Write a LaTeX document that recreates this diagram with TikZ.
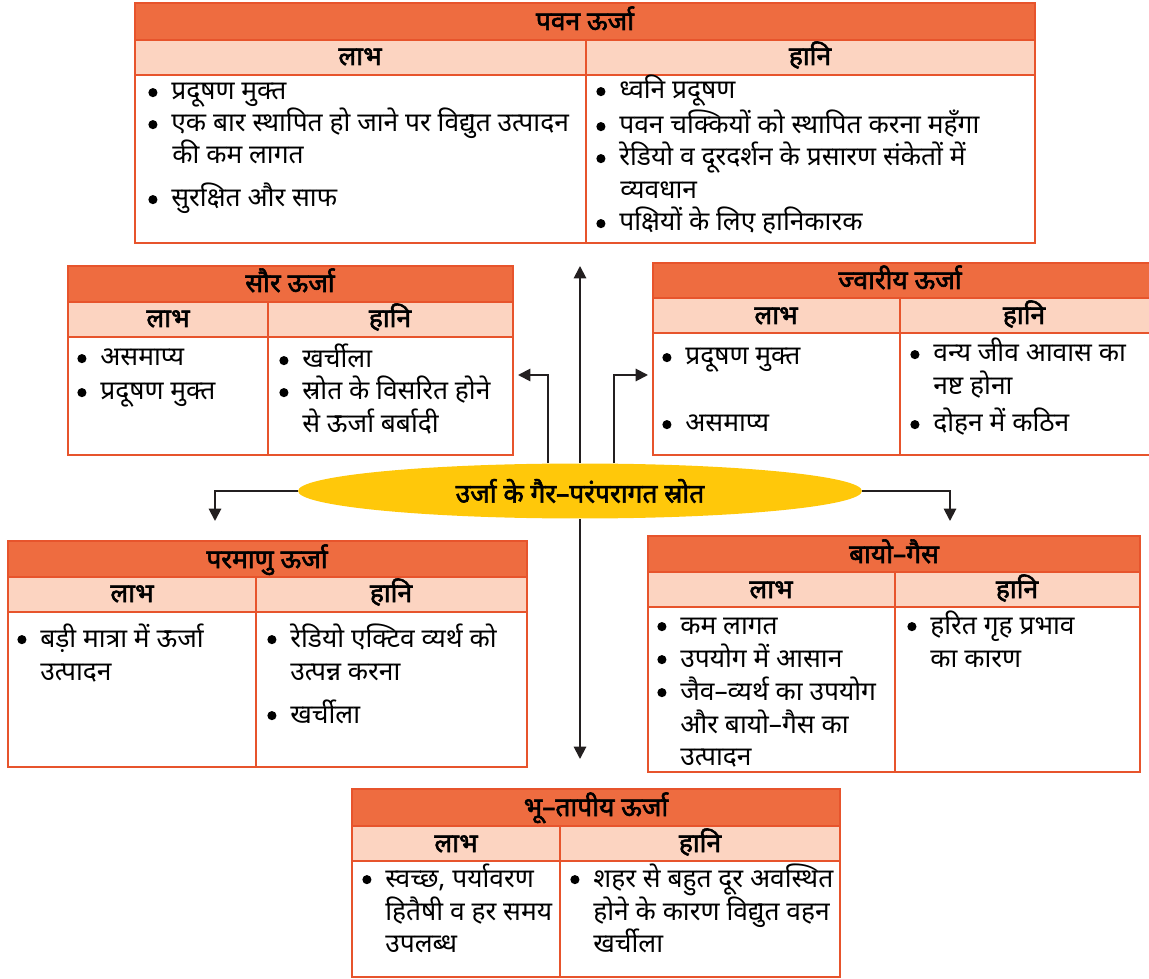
\documentclass[tikz,border=0pt]{standalone}
\usepackage{fontspec}
\setmainfont{Noto Sans}[Script=Devanagari, BoldFont=Noto Sans, BoldFeatures={FakeBold=2.2}]
\usepackage{xcolor}
\usepackage{tikz}
\usetikzlibrary{arrows.meta, shapes.geometric}

\definecolor{titleorange}{RGB}{238,108,64}
\definecolor{headpeach}{RGB}{252,212,193}
\definecolor{frameorange}{RGB}{231,84,44}
\definecolor{ovalyellow}{RGB}{255,200,10}
\definecolor{arrowdark}{RGB}{35,31,32}
\newcommand{\bul}{\makebox[4.6mm][l]{\raisebox{1.6pt}{\tikz\fill (0,0) circle (2.6pt);}}}

\begin{document}
\begin{tikzpicture}[x=0.02cm, y=-0.02cm,
  titlecell/.style={fill=titleorange, draw=frameorange, line width=1.4pt},
  headcell/.style={fill=headpeach, draw=frameorange, line width=1.4pt},
  frame/.style={draw=frameorange, line width=1.4pt},
  titletext/.style={anchor=base, inner sep=0pt, font=\bfseries\fontsize{15}{17}\selectfont},
  headtext/.style={anchor=base, inner sep=0pt, font=\bfseries\fontsize{15}{17}\selectfont},
  item/.style={anchor=base west, inner sep=0pt, font=\fontsize{15}{17}\selectfont},
  srcnode/.style={ellipse, fill=ovalyellow, minimum width=11.28cm, minimum height=1.1cm, inner sep=0pt, font=\bfseries\fontsize{15}{17}\selectfont},
  conn/.style={draw=arrowdark, line width=1.1pt, -{Triangle[length=7pt, width=7pt]}}]

\useasboundingbox (0,0) rectangle (1149,979);

% pavan
\filldraw[titlecell] (135,3) rectangle (1035,40);
\filldraw[headcell] (135,40) rectangle (1035,75);
\draw[frame] (135,75) rectangle (1035,243);
\draw[frame] (586,40) -- (586,243);
\node[titletext] (windT) at (585,30) {पवन ऊर्जा};
\node[headtext] (windP) at (360,65) {लाभ};
\node[headtext] (windN) at (810,65) {हानि};
\node[item] (windP1) at (148,100) {\bul प्रदूषण मुक्त};
\node[item] (windP2) at (148,132) {\bul एक बार स्थापित हो जाने पर विद्युत उत्पादन};
\node[item] (windP2b) at (172,164) {की कम लागत};
\node[item] (windP3) at (148,207) {\bul सुरक्षित और साफ};
\node[item] (windN1) at (596,99) {\bul ध्वनि प्रदूषण};
\node[item] (windN2) at (596,134) {\bul पवन चक्कियों को स्थापित करना महँगा};
\node[item] (windN3) at (596,166) {\bul रेडियो व दूरदर्शन के प्रसारण संकेतों में};
\node[item] (windN3b) at (620,199) {व्यवधान};
\node[item] (windN4) at (596,231) {\bul पक्षियों के लिए हानिकारक};

% saur
\filldraw[titlecell] (68,266) rectangle (513,302);
\filldraw[headcell] (68,302) rectangle (513,337);
\draw[frame] (68,337) rectangle (513,455);
\draw[frame] (268,302) -- (268,455);
\node[titletext] (solarT) at (290,292) {सौर ऊर्जा};
\node[headtext] (solarP) at (168,327) {लाभ};
\node[headtext] (solarN) at (390,327) {हानि};
\node[item] (solarP1) at (77,366) {\bul असमाप्य};
\node[item] (solarP2) at (77,400) {\bul प्रदूषण मुक्त};
\node[item] (solarN1) at (279,368) {\bul खर्चीला};
\node[item] (solarN2) at (279,400) {\bul स्रोत के विसरित होने};
\node[item] (solarN2b) at (302,433) {से ऊर्जा बर्बादी};

% jvariya
\filldraw[titlecell] (653,263) rectangle (1153,298);
\filldraw[headcell] (653,298) rectangle (1153,333);
\draw[frame] (653,333) rectangle (1153,455);
\draw[frame] (900,298) -- (900,455);
\node[titletext] (tidalT) at (900,289) {ज्वारीय ऊर्जा};
\node[headtext] (tidalP) at (776,324) {लाभ};
\node[headtext] (tidalN) at (1024,324) {हानि};
\node[item] (tidalP1) at (662,365) {\bul प्रदूषण मुक्त};
\node[item] (tidalP2) at (662,432) {\bul असमाप्य};
\node[item] (tidalN1) at (910,362) {\bul वन्य जीव आवास का};
\node[item] (tidalN1b) at (933,395) {नष्ट होना};
\node[item] (tidalN2) at (910,432) {\bul दोहन में कठिन};

% paramanu
\filldraw[titlecell] (8,541) rectangle (527,577);
\filldraw[headcell] (8,577) rectangle (527,612);
\draw[frame] (8,612) rectangle (527,767);
\draw[frame] (256,577) -- (256,767);
\node[titletext] (nuclearT) at (267,568) {परमाणु ऊर्जा};
\node[headtext] (nuclearP) at (132,602) {लाभ};
\node[headtext] (nuclearN) at (391,602) {हानि};
\node[item] (nuclearP1) at (17,647) {\bul बड़ी मात्रा में ऊर्जा};
\node[item] (nuclearP1b) at (40,680) {उत्पादन};
\node[item] (nuclearN1) at (267,647) {\bul रेडियो एक्टिव व्यर्थ को};
\node[item] (nuclearN1b) at (290,680) {उत्पन्न करना};
\node[item] (nuclearN2) at (267,723) {\bul खर्चीला};

% bayo-gas
\filldraw[titlecell] (648,536) rectangle (1140,572);
\filldraw[headcell] (648,572) rectangle (1140,607);
\draw[frame] (648,607) rectangle (1140,772);
\draw[frame] (895,572) -- (895,772);
\node[titletext] (biogasT) at (894,563) {बायो–गैस};
\node[headtext] (biogasP) at (771,598) {लाभ};
\node[headtext] (biogasN) at (1017,598) {हानि};
\node[item] (biogasP1) at (657,634) {\bul कम लागत};
\node[item] (biogasP2) at (657,667) {\bul उपयोग में आसान};
\node[item] (biogasP3) at (657,700) {\bul जैव–व्यर्थ का उपयोग};
\node[item] (biogasP3b) at (680,733) {और बायो–गैस का};
\node[item] (biogasP3c) at (680,765) {उत्पादन};
\node[item] (biogasN1) at (907,634) {\bul हरित गृह प्रभाव};
\node[item] (biogasN1b) at (930,667) {का कारण};

% bhu-tapiya
\filldraw[titlecell] (352,789) rectangle (840,826);
\filldraw[headcell] (352,826) rectangle (840,861);
\draw[frame] (352,861) rectangle (840,977);
\draw[frame] (560,826) -- (560,977);
\node[titletext] (geoT) at (596,816) {भू–तापीय ऊर्जा};
\node[headtext] (geoP) at (456,852) {लाभ};
\node[headtext] (geoN) at (700,852) {हानि};
\node[item] (geoP1) at (362,887) {\bul स्वच्छ, पर्यावरण};
\node[item] (geoP1b) at (385,920) {हितैषी व हर समय};
\node[item] (geoP1c) at (385,952) {उपलब्ध};
\node[item] (geoN1) at (570,887) {\bul शहर से बहुत दूर अवस्थित};
\node[item] (geoN1b) at (593,920) {होने के कारण विद्युत वहन};
\node[item] (geoN1c) at (593,952) {खर्चीला};

% srot
\node[srcnode] (src) at (580,491) {उर्जा के गैर–परंपरागत स्रोत};

\coordinate (windEnd) at (580,266);
\coordinate (solarTurn) at (548,375);
\coordinate (solarEnd) at (518,375);
\coordinate (tidalTurn) at (614,375);
\coordinate (tidalEnd) at (648,375);
\coordinate (nuclearEnd) at (215,521);
\coordinate (biogasEnd) at (950,521);
\coordinate (geoEnd) at (580,759);

\draw[conn] (src.north) -- (windEnd);
\draw[conn] (src.north -| solarTurn) -- (solarTurn) -- (solarEnd);
\draw[conn] (src.north -| tidalTurn) -- (tidalTurn) -- (tidalEnd);
\draw[conn] (src.west) -| (nuclearEnd);
\draw[conn] (src.east) -| (biogasEnd);
\draw[conn] (src.south) -- (geoEnd);

\end{tikzpicture}
\end{document}
